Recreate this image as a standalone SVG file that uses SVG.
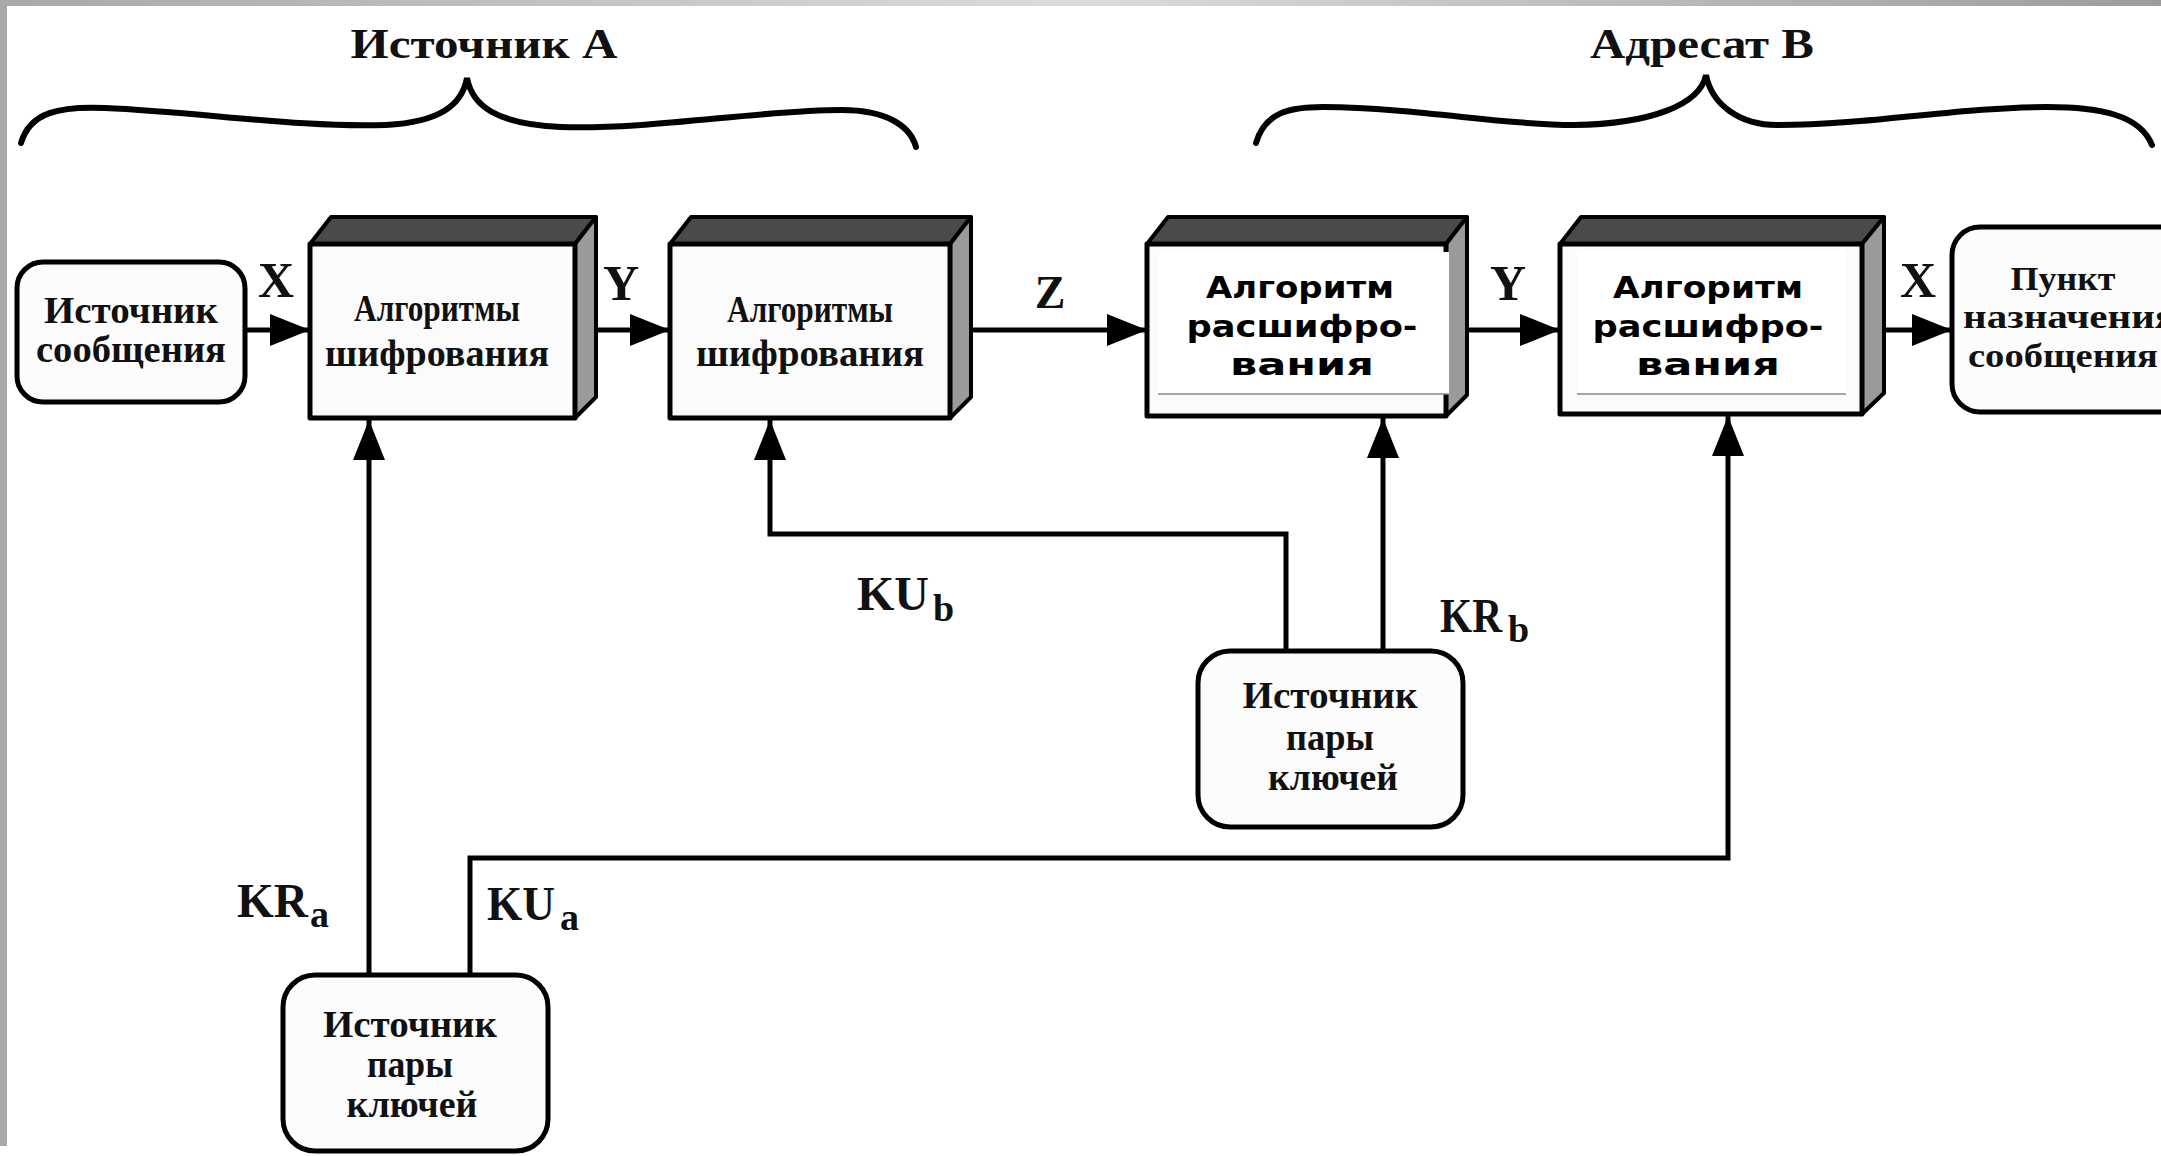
<svg xmlns="http://www.w3.org/2000/svg" width="2161" height="1156" viewBox="0 0 2161 1156">
<defs>
<style>
.serif{font-family:"Liberation Serif","DejaVu Serif",serif;font-weight:bold;fill:#111;}
.sans{font-family:"DejaVu Sans","Verdana",sans-serif;font-weight:bold;fill:#000;font-size:31px;}
.nt{font-size:38px;text-anchor:middle;}
.dt{font-size:34px;text-anchor:middle;}
.lbl{font-size:50px;text-anchor:middle;}
.kl{font-size:48px;}
.sub{font-size:38px;}
.title{font-size:42px;text-anchor:middle;}
.round{fill:#fcfcfc;stroke:#000;stroke-width:5;}
.front{fill:#fbfbfb;stroke:#000;stroke-width:5;stroke-linejoin:round;}
.top{fill:#4a4a4a;stroke:#000;stroke-width:4;stroke-linejoin:round;}
.side{fill:#9a9a9a;stroke:#000;stroke-width:4;stroke-linejoin:round;}
.conn{fill:none;stroke:#000;stroke-width:5;}
.brace{fill:none;stroke:#000;stroke-width:6;stroke-linecap:round;}
.overlay{fill:#fff;}
</style>
<marker id="ah" markerUnits="userSpaceOnUse" markerWidth="42" markerHeight="34" refX="40" refY="17" orient="auto">
<path d="M0,1 L40,17 L0,33 z" fill="#000"/>
</marker>
<linearGradient id="topband" x1="0" y1="0" x2="1" y2="0">
<stop offset="0" stop-color="#a8a8a8"/>
<stop offset="0.5" stop-color="#dcdcdc"/>
<stop offset="1" stop-color="#9c9c9c"/>
</linearGradient>
</defs>
<rect x="0" y="0" width="2161" height="1156" fill="#fff"/>
<rect x="0" y="0" width="2161" height="6" fill="url(#topband)"/>
<rect x="0" y="0" width="7" height="1146" fill="#a9a9a9"/>

<g id="titles">
<text class="serif title" x="484" y="58" textLength="267" lengthAdjust="spacingAndGlyphs">Источник A</text>
<path class="brace" d="M21,143 C30,112 60,106 105,108 C200,112 300,128 386,125 C440,122 462,105 467,78 C472,105 495,124 561,127 C650,130 760,110 842,110 C885,110 910,125 916,147"/>
<text class="serif title" x="1702" y="58" textLength="224" lengthAdjust="spacingAndGlyphs">Адресат B</text>
<path class="brace" d="M1256,143 C1265,112 1290,107 1323,107 C1420,108 1500,125 1574,125 C1650,124 1700,105 1706,75 C1712,105 1740,125 1777,125 C1870,125 1960,107 2047,107 C2100,107 2140,115 2152,145"/>
</g>

<g id="connectors">
<line class="conn" x1="245" y1="330" x2="310" y2="330" marker-end="url(#ah)"/>
<line class="conn" x1="596" y1="330" x2="670" y2="330" marker-end="url(#ah)"/>
<line class="conn" x1="971" y1="330" x2="1147" y2="330" marker-end="url(#ah)"/>
<line class="conn" x1="1467" y1="330" x2="1560" y2="330" marker-end="url(#ah)"/>
<line class="conn" x1="1884" y1="330" x2="1952" y2="330" marker-end="url(#ah)"/>
<polyline class="conn" points="369,975 369,420" marker-end="url(#ah)"/>
<polyline class="conn" points="470,975 470,858 1728,858 1728,416" marker-end="url(#ah)"/>
<polyline class="conn" points="1286,651 1286,534 770,534 770,420" marker-end="url(#ah)"/>
<polyline class="conn" points="1383,651 1383,418" marker-end="url(#ah)"/>
<text class="serif lbl" x="276" y="297">X</text>
<text class="serif lbl" x="621" y="300">Y</text>
<text class="serif lbl" x="1050" y="308" style="font-size:46px">Z</text>
<text class="serif lbl" x="1508" y="300">Y</text>
<text class="serif lbl" x="1918" y="297">X</text>
<text class="serif" x="237" y="917"><tspan class="kl" textLength="71" lengthAdjust="spacingAndGlyphs">KR</tspan><tspan class="sub" x="310" y="927">a</tspan></text>
<text class="serif" x="487" y="920"><tspan class="kl" textLength="68" lengthAdjust="spacingAndGlyphs">KU</tspan><tspan class="sub" x="560" y="930">a</tspan></text>
<text class="serif" x="857" y="610"><tspan class="kl" textLength="72" lengthAdjust="spacingAndGlyphs">KU</tspan><tspan class="sub" x="933" y="621">b</tspan></text>
<text class="serif" x="1440" y="632"><tspan class="kl" textLength="62" lengthAdjust="spacingAndGlyphs">KR</tspan><tspan class="sub" x="1508" y="642">b</tspan></text>
</g>

<g id="msg-source">
<rect class="round" x="17" y="262" width="228" height="140" rx="26"/>
<text class="serif nt" x="131" y="323" textLength="174" lengthAdjust="spacingAndGlyphs">Источник</text>
<text class="serif nt" x="131" y="362" textLength="190" lengthAdjust="spacingAndGlyphs">сообщения</text>
</g>

<g id="encrypt-1">
<polygon class="top" points="310,244 331,217 596,217 575,244"/>
<polygon class="side" points="575,244 596,217 596,397 575,418"/>
<rect class="front" x="310" y="244" width="265" height="174"/>
<text class="serif nt" x="437" y="321" textLength="166" lengthAdjust="spacingAndGlyphs">Алгоритмы</text>
<text class="serif nt" x="437" y="366" textLength="224" lengthAdjust="spacingAndGlyphs">шифрования</text>
</g>

<g id="encrypt-2">
<polygon class="top" points="670,244 691,217 971,217 950,244"/>
<polygon class="side" points="950,244 971,217 971,397 950,418"/>
<rect class="front" x="670" y="244" width="280" height="174"/>
<text class="serif nt" x="810" y="322" textLength="166" lengthAdjust="spacingAndGlyphs">Алгоритмы</text>
<text class="serif nt" x="810" y="366" textLength="228" lengthAdjust="spacingAndGlyphs">шифрования</text>
</g>

<g id="decrypt-1">
<polygon class="top" points="1147,244 1168,217 1467,217 1446,244"/>
<polygon class="side" points="1446,244 1467,217 1467,395 1446,416"/>
<rect class="front" x="1147" y="244" width="299" height="172"/>
<rect class="overlay" x="1158" y="252" width="291" height="142"/>
<line x1="1158" y1="394" x2="1449" y2="394" stroke="#888" stroke-width="1.5"/>
<text class="sans" x="1300" y="298" text-anchor="middle" textLength="188" lengthAdjust="spacingAndGlyphs">Алгоритм</text>
<text class="sans" x="1302" y="337" text-anchor="middle" textLength="231" lengthAdjust="spacingAndGlyphs">расшифро-</text>
<text class="sans" x="1302" y="375" text-anchor="middle" textLength="144" lengthAdjust="spacingAndGlyphs">вания</text>
</g>

<g id="decrypt-2">
<polygon class="top" points="1560,244 1581,217 1884,217 1862,244"/>
<polygon class="side" points="1862,244 1884,217 1884,393 1862,414"/>
<rect class="front" x="1560" y="244" width="302" height="170"/>
<rect class="overlay" x="1577" y="250" width="269" height="144"/>
<line x1="1577" y1="394" x2="1846" y2="394" stroke="#888" stroke-width="1.5"/>
<text class="sans" x="1708" y="298" text-anchor="middle" textLength="190" lengthAdjust="spacingAndGlyphs">Алгоритм</text>
<text class="sans" x="1708" y="337" text-anchor="middle" textLength="231" lengthAdjust="spacingAndGlyphs">расшифро-</text>
<text class="sans" x="1708" y="375" text-anchor="middle" textLength="144" lengthAdjust="spacingAndGlyphs">вания</text>
</g>

<g id="destination">
<rect class="round" x="1952" y="227" width="260" height="185" rx="28"/>
<text class="serif dt" x="2063" y="290" textLength="105" lengthAdjust="spacingAndGlyphs">Пункт</text>
<text class="serif dt" x="2070" y="328" textLength="214" lengthAdjust="spacingAndGlyphs">назначения</text>
<text class="serif dt" x="2063" y="367" textLength="190" lengthAdjust="spacingAndGlyphs">сообщения</text>
</g>

<g id="keysource-a">
<rect class="round" x="283" y="975" width="265" height="176" rx="32"/>
<text class="serif nt" x="410" y="1037" textLength="174" lengthAdjust="spacingAndGlyphs">Источник</text>
<text class="serif nt" x="410" y="1077" textLength="86" lengthAdjust="spacingAndGlyphs">пары</text>
<text class="serif nt" x="412" y="1117" textLength="131" lengthAdjust="spacingAndGlyphs">ключей</text>
</g>

<g id="keysource-b">
<rect class="round" x="1198" y="651" width="265" height="176" rx="32"/>
<text class="serif nt" x="1330" y="708" textLength="175" lengthAdjust="spacingAndGlyphs">Источник</text>
<text class="serif nt" x="1330" y="750" textLength="88" lengthAdjust="spacingAndGlyphs">пары</text>
<text class="serif nt" x="1333" y="790" textLength="130" lengthAdjust="spacingAndGlyphs">ключей</text>
</g>
</svg>
